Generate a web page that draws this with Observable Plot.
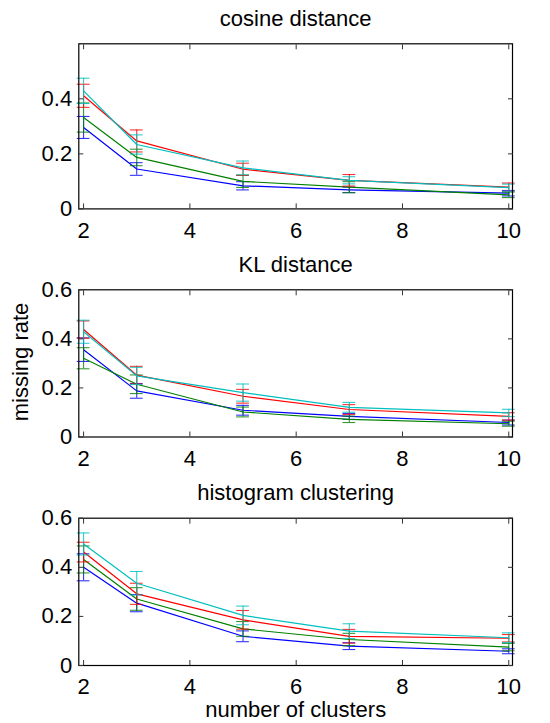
<!DOCTYPE html>
<html><head><meta charset="utf-8">
<script src="https://cdn.jsdelivr.net/npm/d3@7"></script>
<script src="https://cdn.jsdelivr.net/npm/@observablehq/plot@0.6"></script>
<style>
body{margin:0;background:#fff}
#chart{position:relative;width:550px;height:723px;background:#fff;overflow:hidden;font-family:'Liberation Sans', Arial, Helvetica, sans-serif}
#chart svg{position:absolute;left:0;overflow:visible}
#ylab{position:absolute;left:20.7px;top:362px;font-size:22px;line-height:22px;white-space:nowrap;color:#000;transform:translate(-50%,-50%) rotate(-90deg)}
</style></head><body><div id="chart"></div>
<script>
// x values
const clusters = [2, 3, 5, 7, 10];
const xTicks = [2, 4, 6, 8, 10];
// series order / colours (drawn blue, green, red, cyan)
const seriesNames = ["blue", "green", "red", "cyan"];
const seriesColors = ["#0000ff", "#008000", "#ff0000", "#00bfbf"];

// cosine distance
const cosineMeans = [
  [0.296, 0.145, 0.084, 0.069, 0.057],
  [0.332, 0.187, 0.100, 0.079, 0.051],
  [0.411, 0.247, 0.144, 0.104, 0.079],
  [0.429, 0.234, 0.149, 0.104, 0.077]
];
const cosineErrs = [
  [0.040, 0.023, 0.015, 0.010, 0.010],
  [0.053, 0.030, 0.022, 0.020, 0.010],
  [0.042, 0.040, 0.022, 0.021, 0.015],
  [0.046, 0.035, 0.025, 0.013, 0.013]
];
// KL distance
const klMeans = [
  [0.356, 0.188, 0.109, 0.084, 0.059],
  [0.321, 0.215, 0.102, 0.072, 0.054],
  [0.438, 0.252, 0.166, 0.112, 0.084],
  [0.429, 0.249, 0.181, 0.121, 0.098]
];
const klErrs = [
  [0.048, 0.030, 0.020, 0.012, 0.010],
  [0.043, 0.038, 0.020, 0.013, 0.010],
  [0.035, 0.036, 0.028, 0.020, 0.015],
  [0.047, 0.035, 0.035, 0.020, 0.015]
];
// histogram clustering
const histMeans = [
  [0.400, 0.254, 0.119, 0.079, 0.058],
  [0.432, 0.271, 0.149, 0.106, 0.075],
  [0.462, 0.292, 0.186, 0.119, 0.111],
  [0.495, 0.335, 0.204, 0.140, 0.113]
];
const histErrs = [
  [0.055, 0.035, 0.022, 0.014, 0.010],
  [0.055, 0.046, 0.030, 0.025, 0.015],
  [0.040, 0.043, 0.038, 0.028, 0.015],
  [0.045, 0.048, 0.038, 0.030, 0.020]
];

const titles = ["cosine distance", "KL distance", "histogram clustering"];
const yTicksTop = [0, 0.2, 0.4];
const yTicksFull = [0, 0.2, 0.4, 0.6];
const yLabel = "missing rate";
const xLabel = "number of clusters";

const FONT = "'Liberation Sans', Arial, Helvetica, sans-serif";
const capHalf = 0.12;

function makePanel({title, means, errs, top, height, mt, mb, yTicks, showX}) {
  const marks = [];
  seriesNames.forEach((name, s) => {
    const rows = clusters.map((c, i) => ({x: c, y: means[s][i], e: errs[s][i]}));
    const col = seriesColors[s];
    marks.push(Plot.ruleX(rows, {x: "x", y1: d => d.y - d.e, y2: d => d.y + d.e, stroke: col, strokeOpacity: 0.8, strokeWidth: 1.1}));
    marks.push(Plot.ruleY(rows, {y: d => d.y + d.e, x1: d => d.x - capHalf, x2: d => d.x + capHalf, stroke: col, strokeOpacity: 0.8, strokeWidth: 1.1}));
    marks.push(Plot.ruleY(rows, {y: d => d.y - d.e, x1: d => d.x - capHalf, x2: d => d.x + capHalf, stroke: col, strokeOpacity: 0.8, strokeWidth: 1.1}));
    marks.push(Plot.line(rows, {x: "x", y: "y", stroke: col, strokeWidth: 1.2}));
  });
  marks.push(Plot.frame({stroke: "black", strokeWidth: 1.2}));
  marks.push(Plot.axisX({anchor: "bottom", label: null, ticks: xTicks, tickSize: -5, tickPadding: 18.3, tickFormat: d => String(d), stroke: "#333"}));
  marks.push(Plot.axisX({anchor: "top", label: null, ticks: xTicks, tickSize: -5, tickFormat: () => "", stroke: "#333"}));
  marks.push(Plot.axisY({anchor: "left", label: null, ticks: yTicks, tickSize: -5, tickPadding: 11.6, tickFormat: d => d === 0 ? "0" : String(d), stroke: "#333"}));
  marks.push(Plot.axisY({anchor: "right", label: null, ticks: yTicks, tickSize: -5, tickFormat: () => "", stroke: "#333"}));
  marks.push(Plot.text([title], {frameAnchor: "top", lineAnchor: "bottom", dy: -17.8, text: d => d, fill: "black"}));
  if (showX) marks.push(Plot.text([xLabel], {frameAnchor: "bottom", lineAnchor: "bottom", dy: 51.5, text: d => d, fill: "black"}));
  const svg = Plot.plot({
    width: 550,
    height,
    marginTop: mt,
    marginBottom: mb,
    marginLeft: 78.3,
    marginRight: 38,
    style: {fontSize: "22px", fontFamily: FONT, color: "black", background: "transparent", overflow: "visible"},
    x: {domain: [1.91, 10.07]},
    y: {domain: [0, 0.6]},
    marks
  });
  svg.style.top = top + "px";
  return svg;
}

const chart = document.getElementById("chart");
chart.appendChild(makePanel({title: titles[0], means: cosineMeans, errs: cosineErrs, top: 0, height: 245, mt: 43.3, mb: 36.6, yTicks: yTicksTop}));
chart.appendChild(makePanel({title: titles[1], means: klMeans, errs: klErrs, top: 245, height: 228, mt: 44.3, mb: 36.5, yTicks: yTicksFull}));
chart.appendChild(makePanel({title: titles[2], means: histMeans, errs: histErrs, top: 473, height: 250, mt: 44.7, mb: 58, yTicks: yTicksFull, showX: true}));
const ylab = document.createElement("div");
ylab.id = "ylab";
ylab.textContent = yLabel;
chart.appendChild(ylab);
</script></body></html>
